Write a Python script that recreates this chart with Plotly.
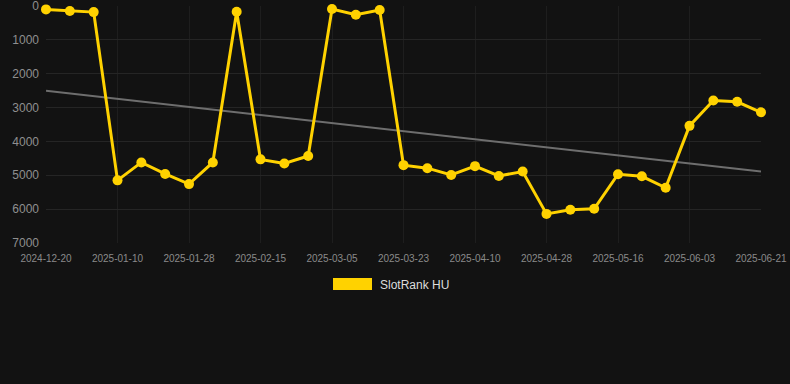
import plotly.graph_objects as go

dates = ["2024-12-20", "2024-12-27", "2025-01-03", "2025-01-10", "2025-01-16", "2025-01-22",
         "2025-01-28", "2025-02-03", "2025-02-09", "2025-02-15", "2025-02-21", "2025-02-27",
         "2025-03-05", "2025-03-11", "2025-03-17", "2025-03-23", "2025-03-29", "2025-04-04",
         "2025-04-10", "2025-04-16", "2025-04-22", "2025-04-28", "2025-05-04", "2025-05-10",
         "2025-05-16", "2025-05-22", "2025-05-28", "2025-06-03", "2025-06-09", "2025-06-15",
         "2025-06-21"]
rank = [100, 150, 180, 5150, 4620, 4960, 5260, 4620, 170, 4530, 4650, 4430,
        90, 260, 120, 4700, 4790, 4990, 4730, 5020, 4890, 6140, 6020, 5990,
        4970, 5030, 5370, 3540, 2790, 2830, 3140]
trend_x = [dates[0], dates[-1]]
trend_y = [2500, 4890]
tick_dates = dates[::3]
y_ticks = [0, 1000, 2000, 3000, 4000, 5000, 6000, 7000]
series_name = "SlotRank HU"

GOLD = "#FFD200"
fig = go.Figure()
fig.add_trace(go.Scatter(x=trend_x, y=trend_y, mode="lines",
                         line=dict(color="#6e6e6e", width=2), showlegend=False, hoverinfo="skip"))
fig.add_trace(go.Scatter(x=dates, y=rank, mode="lines+markers", cliponaxis=False,
                         line=dict(color=GOLD, width=3), marker=dict(color=GOLD, size=10),
                         showlegend=False, name=series_name))

# legend drawn as a swatch + text (40px wide box like the reference)
PW, PH, L, T = 715, 237, 46, 6
def px(x):
    return (x - L) / PW
def py(y):
    return (T + PH - y) / PH

fig.add_shape(type="rect", xref="paper", yref="paper",
              x0=px(333), x1=px(372), y0=py(290), y1=py(278),
              fillcolor=GOLD, line=dict(width=0))
fig.add_annotation(xref="paper", yref="paper", x=px(378), y=py(284.5), text=series_name,
                   showarrow=False, xanchor="left", yanchor="middle",
                   font=dict(size=12, color="#dddddd"))

fig.update_layout(
    width=790, height=384,
    paper_bgcolor="#121212", plot_bgcolor="#121212",
    margin=dict(l=L, r=790 - L - PW, t=T, b=384 - T - PH, autoexpand=False),
    font=dict(family="Liberation Sans, Arial, sans-serif", color="#999999"),
    xaxis=dict(type="category", categoryorder="array", categoryarray=dates,
               range=[0, len(dates) - 1], automargin=False,
               tickmode="array", tickvals=tick_dates, ticktext=tick_dates,
               showgrid=True, gridcolor="#1e1e1e", zeroline=False, showline=False,
               tickfont=dict(size=10, color="#8a8a8a"), ticks="",
               ticklabelstandoff=8, ticklabeloverflow="allow"),
    yaxis=dict(range=[7000, 0], tickvals=y_ticks, showgrid=True, gridcolor="#252525",
               automargin=False,
               zeroline=False, showline=False, tickfont=dict(size=12, color="#8f8f8f"),
               ticks="", ticklabelstandoff=6, ticklabeloverflow="allow"),
    showlegend=False,
)
fig.write_html("out.html")
